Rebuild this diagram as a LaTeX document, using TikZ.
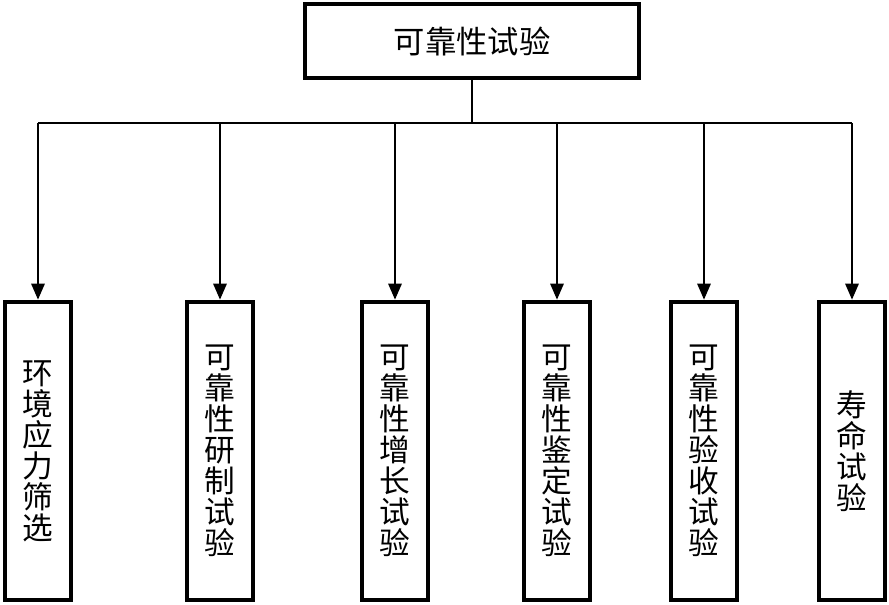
\documentclass[tikz,border=0pt]{standalone}
\usepackage{fontspec}
\newfontfamily\cjk{Noto Sans CJK SC}
\usetikzlibrary{arrows.meta}

\tikzset{
  topbox/.style={draw, line width=3pt, minimum width=250pt, minimum height=55.5pt,
    font=\cjk\fontsize{23.5}{25}\selectfont, inner sep=0pt},
  testbox/.style={draw, line width=3pt, minimum width=50pt, minimum height=224pt,
    font=\cjk\fontsize{23}{23.3}\selectfont, align=center, inner sep=0pt},
  link/.style={line width=1.5pt},
  arrow/.style={link, -{Triangle[length=12pt, width=10pt]}}
}

\begin{document}
\begin{tikzpicture}[x=0.75pt, y=-0.75pt]
    \useasboundingbox (0,0) rectangle (889,605);

    \node[topbox] (test) at (472,41) {可靠性试验};

    \node[testbox] (ess)   at (38,451)  {环\\境\\应\\力\\筛\\选};
    \node[testbox] (dev)   at (220,451) {可\\靠\\性\\研\\制\\试\\验};
    \node[testbox] (grow)  at (395,451) {可\\靠\\性\\增\\长\\试\\验};
    \node[testbox] (qual)  at (557,451) {可\\靠\\性\\鉴\\定\\试\\验};
    \node[testbox] (accept) at (704,451) {可\\靠\\性\\验\\收\\试\\验};
    \node[testbox] (life)  at (852,451) {寿\\命\\试\\验};

    \coordinate (split) at (472,123);

    \draw[link] (test) -- (split);
    \draw[link] (ess.north |- split) -- (life.north |- split);

    \foreach \kind in {ess, dev, grow, qual, accept, life}
        \draw[arrow] (\kind.north |- split) -- (\kind.north);
\end{tikzpicture}
\end{document}
